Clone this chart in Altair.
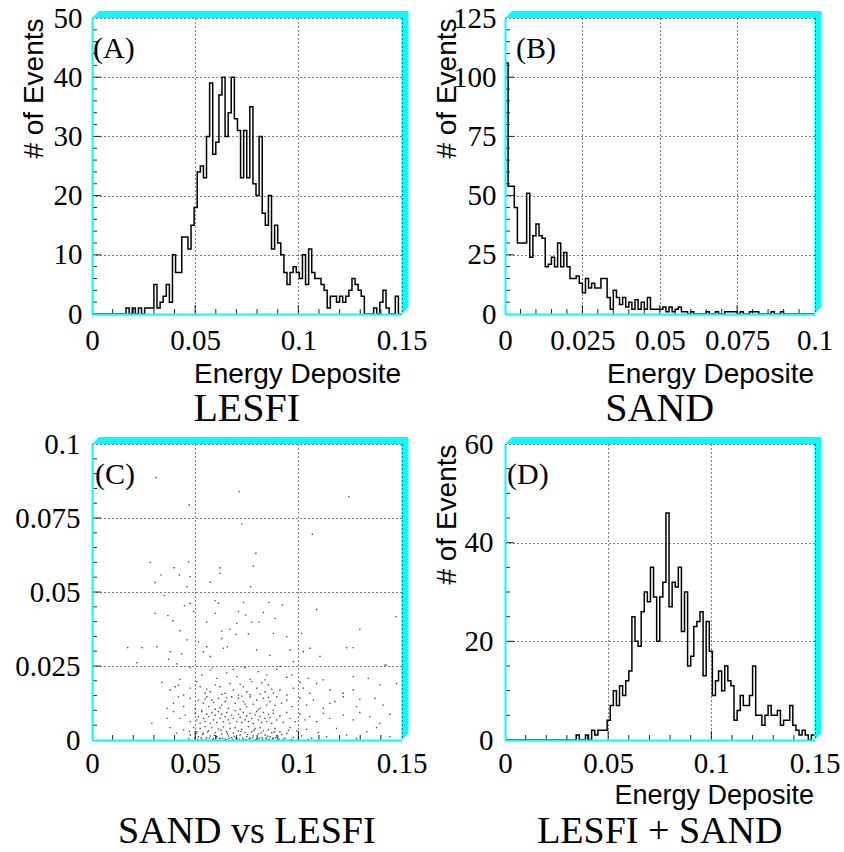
import altair as alt
import pandas as pd

# ---------------- data ----------------
# LESFI energy deposit: 100 bins on [0, 0.15]
lesfi_counts = [
    0, 0, 0, 0, 0, 0, 0, 0, 0, 0,
    0, 1, 0, 1, 0, 1, 0, 1, 1, 1,
    5, 1, 2, 3, 5, 2, 10, 7, 7, 13,
    13, 11, 15, 18, 24, 25, 23, 30, 39, 27,
    29, 37, 40, 30, 34, 40, 33, 31, 23, 31,
    23, 35, 22, 20, 30, 17, 15, 20, 11, 15,
    12, 10, 7, 5, 7, 8, 7, 6, 10, 5,
    11, 7, 6, 6, 5, 4, 1, 3, 3, 2,
    3, 2, 3, 4, 6, 5, 4, 3, 0, 0,
    0, 1, 0, 2, 4, 1, 0, 0, 3, 0,
]

# SAND energy deposit: 100 bins on [0, 0.1]
sand_counts = [
    106, 54, 54, 45, 30, 30, 30, 51, 24, 33,
    38, 33, 32, 20, 21, 24, 20, 30, 20, 26,
    20, 15, 15, 16, 13, 9, 15, 11, 13, 11,
    11, 15, 15, 7, 2, 10, 7, 4, 7, 3,
    5, 2, 6, 2, 5, 2, 7, 2, 2, 2,
    2, 3, 1, 3, 1, 2, 3, 1, 1, 0,
    1, 0, 0, 0, 0, 1, 0, 0, 1, 0,
    0, 1, 1, 1, 1, 0, 1, 0, 0, 1,
    1, 1, 0, 0, 0, 0, 1, 0, 0, 1,
    0, 0, 0, 0, 0, 0, 0, 0, 0, 0,
]

# LESFI + SAND energy deposit: 100 bins on [0, 0.15]
sum_counts = [
    0, 0, 0, 0, 0, 0, 0, 0, 0, 0,
    0, 0, 0, 0, 0, 0, 0, 0, 0, 0,
    0, 0, 0, 1, 0, 0, 1, 0, 2, 1,
    2, 2, 2, 4, 7, 10, 7, 11, 9, 12,
    14, 25, 20, 19, 26, 30, 28, 35, 29, 20,
    29, 32, 46, 27, 32, 31, 35, 22, 30, 15,
    17, 23, 24, 26, 13, 24, 18, 9, 12, 14,
    10, 15, 12, 11, 4, 6, 9, 7, 7, 9,
    15, 5, 5, 3, 5, 7, 5, 5, 6, 3,
    4, 4, 7, 3, 2, 1, 2, 1, 0, 1,
]

# SAND vs LESFI per event, as (lesfi, sand) pairs
events_upper = [
    (0.031, 0.0886), (0.0713, 0.0839), (0.1245, 0.0822), (0.0471, 0.0794),
    (0.0726, 0.073), (0.1068, 0.0695), (0.0794, 0.0631), (0.0282, 0.06),
    (0.0398, 0.0582), (0.0468, 0.0602), (0.0621, 0.0582), (0.0335, 0.0557),
    (0.0424, 0.0557), (0.0621, 0.0563), (0.0476, 0.0552), (0.0782, 0.0588),
    (0.0306, 0.0532), (0.0573, 0.0533), (0.0769, 0.0518), (0.046, 0.0518),
    (0.0597, 0.047), (0.0613, 0.0462), (0.035, 0.0488), (0.0734, 0.0465),
    (0.0858, 0.0465), (0.0923, 0.0456), (0.0476, 0.0462), (0.0448, 0.0454),
    (0.0306, 0.0428), (0.0368, 0.042), (0.0392, 0.0403), (0.0492, 0.0434),
    (0.0597, 0.0428), (0.071, 0.0434), (0.0745, 0.0422), (0.0831, 0.0431),
    (0.0887, 0.0411), (0.1089, 0.0441), (0.1473, 0.0417), (0.0556, 0.0398),
    (0.0702, 0.0394), (0.0774, 0.0398), (0.081, 0.0398), (0.0427, 0.0369),
    (0.0629, 0.0368), (0.0669, 0.0374), (0.0697, 0.0357), (0.0758, 0.0358),
    (0.0879, 0.036), (0.0944, 0.0349), (0.1016, 0.036), (0.1298, 0.0374),
    (0.046, 0.0338), (0.0516, 0.0332), (0.0556, 0.0315), (0.0629, 0.0343),
    (0.0656, 0.0315), (0.0173, 0.0312), (0.0242, 0.0312), (0.0315, 0.0315),
    (0.0379, 0.0298), (0.0435, 0.0291), (0.054, 0.0298), (0.0573, 0.0282),
    (0.0637, 0.031), (0.0798, 0.0304), (0.0863, 0.0286), (0.096, 0.0304),
    (0.1024, 0.0298), (0.1056, 0.031), (0.1105, 0.0282), (0.1234, 0.0312),
    (0.1266, 0.0312), (0.0218, 0.0261), (0.0371, 0.0273), (0.0411, 0.0257),
    (0.0976, 0.0265), (0.1427, 0.0253),
]
events_mid = [
    (0.0476, 0.0245), (0.0532, 0.022), (0.0573, 0.0236), (0.0605, 0.0208),
    (0.0653, 0.0227), (0.0702, 0.0214), (0.0742, 0.0245), (0.0766, 0.0205),
    (0.0806, 0.0231), (0.0847, 0.022), (0.0895, 0.0239), (0.0944, 0.0212),
    (0.0968, 0.022), (0.1048, 0.0208), (0.1121, 0.0203), (0.1266, 0.0214),
    (0.1339, 0.0208), (0.1419, 0.0253), (0.0339, 0.0195), (0.0427, 0.0205),
    (0.0581, 0.0243), (0.0685, 0.0238), (0.0839, 0.0203), (0.0911, 0.0249),
    (0.0403, 0.018),
    (0.0379, 0.0169), (0.0476, 0.0175), (0.0524, 0.018), (0.0548, 0.0158),
    (0.0573, 0.0163), (0.0597, 0.0186), (0.0621, 0.018), (0.0645, 0.0158),
    (0.0669, 0.0191), (0.0685, 0.0169), (0.071, 0.0152), (0.0734, 0.018),
    (0.075, 0.0163), (0.0774, 0.0197), (0.0798, 0.0175), (0.0815, 0.0155),
    (0.0839, 0.0163), (0.0855, 0.0186), (0.0879, 0.0158), (0.0911, 0.0169),
    (0.0944, 0.0152), (0.0976, 0.0175), (0.1024, 0.0175), (0.1056, 0.0158),
    (0.1089, 0.0191), (0.1153, 0.0169), (0.1218, 0.0158), (0.1266, 0.0169),
    (0.1395, 0.0186), (0.1476, 0.0191), (0.0444, 0.0152), (0.0508, 0.0197),
    (0.0556, 0.0172), (0.0629, 0.0154), (0.0718, 0.0188), (0.0766, 0.0153),
    (0.0823, 0.0193), (0.0871, 0.0172), (0.0419, 0.0185), (0.1008, 0.0195),
    (0.0419, 0.0146), (0.0444, 0.0113), (0.0476, 0.0141), (0.05, 0.0107),
    (0.0516, 0.0135), (0.054, 0.0124), (0.0556, 0.0146), (0.0565, 0.0113),
    (0.0581, 0.0135), (0.0597, 0.0104), (0.0613, 0.0141), (0.0629, 0.0118),
    (0.0645, 0.013), (0.0661, 0.0107), (0.0677, 0.0146), (0.0694, 0.0124),
    (0.071, 0.0141), (0.0718, 0.0104), (0.0734, 0.013), (0.075, 0.0113),
    (0.0766, 0.0146), (0.0782, 0.0121), (0.0798, 0.0135), (0.0815, 0.0107),
    (0.0831, 0.0141), (0.0847, 0.0118), (0.0863, 0.013), (0.0879, 0.0101),
    (0.0895, 0.0146), (0.0919, 0.0124), (0.0944, 0.0135), (0.0968, 0.0113),
    (0.1008, 0.0141), (0.104, 0.0118), (0.1073, 0.0135), (0.1121, 0.0107),
    (0.1177, 0.013), (0.1218, 0.0146), (0.1282, 0.0113), (0.1298, 0.0137),
    (0.1371, 0.0141), (0.1411, 0.0118), (0.0395, 0.0124), (0.0363, 0.0107),
    (0.0532, 0.0101), (0.0589, 0.0127), (0.0653, 0.0143), (0.0742, 0.0121),
    (0.0806, 0.0102), (0.0855, 0.0144), (0.0726, 0.0148), (0.0621, 0.0109),
    (0.0548, 0.0139), (0.0887, 0.0117), (0.1153, 0.0124),
]
events_low = [
    (0.0395, 0.0096), (0.0427, 0.0073), (0.0452, 0.0084), (0.0476, 0.0062),
    (0.05, 0.009), (0.0508, 0.0068), (0.0516, 0.0079), (0.0524, 0.0056),
    (0.0532, 0.0096), (0.054, 0.0073), (0.0548, 0.0062), (0.0556, 0.0087),
    (0.0565, 0.0079), (0.0573, 0.0056), (0.0581, 0.0093), (0.0589, 0.0068),
    (0.0597, 0.0084), (0.0605, 0.0059), (0.0613, 0.0096), (0.0621, 0.0073),
    (0.0629, 0.0087), (0.0637, 0.0062), (0.0645, 0.0079), (0.0653, 0.0093),
    (0.0661, 0.0068), (0.0669, 0.0056), (0.0677, 0.0084), (0.0685, 0.0073),
    (0.0694, 0.0099), (0.0702, 0.0062), (0.071, 0.0087), (0.0718, 0.0076),
    (0.0726, 0.0059), (0.0734, 0.0093), (0.0742, 0.0068), (0.075, 0.0082),
    (0.0758, 0.0062), (0.0766, 0.009), (0.0774, 0.0073), (0.0782, 0.0056),
    (0.079, 0.0084), (0.0798, 0.0096), (0.0806, 0.0068), (0.0815, 0.0079),
    (0.0823, 0.0059), (0.0831, 0.0093), (0.0839, 0.0073), (0.0847, 0.0062),
    (0.0855, 0.0087), (0.0863, 0.0076), (0.0871, 0.0056), (0.0879, 0.009),
    (0.0895, 0.0068), (0.0911, 0.0082), (0.0927, 0.0059), (0.0944, 0.0093),
    (0.096, 0.0073), (0.0984, 0.0062), (0.1008, 0.0087), (0.1032, 0.0068),
    (0.1056, 0.0079), (0.1089, 0.0062), (0.1121, 0.009), (0.1153, 0.0073),
    (0.1218, 0.0084), (0.1266, 0.0068), (0.1298, 0.0093), (0.1347, 0.0079),
    (0.1395, 0.0056), (0.1444, 0.0087), (0.029, 0.0056), (0.0363, 0.0073),
    (0.0444, 0.0034), (0.0476, 0.0017), (0.0492, 0.0042), (0.05, 0.0006),
    (0.0508, 0.0028), (0.0516, 0.0011), (0.0524, 0.0039), (0.0532, 0.0003),
    (0.054, 0.0023), (0.0548, 0.0045), (0.0556, 0.0008), (0.0565, 0.0031),
    (0.0573, 0.0014), (0.0581, 0.0042), (0.0589, 0.0004), (0.0597, 0.0025),
    (0.0605, 0.0011), (0.0613, 0.0037), (0.0621, 0.0006), (0.0629, 0.002),
    (0.0637, 0.0044), (0.0645, 0.0003), (0.0653, 0.0028), (0.0661, 0.0014),
    (0.0669, 0.0039), (0.0677, 0.0008), (0.0685, 0.0023), (0.0694, 0.0042),
    (0.0702, 0.0005), (0.071, 0.0031), (0.0718, 0.0017), (0.0726, 0.0036),
    (0.0734, 0.0002), (0.0742, 0.0025), (0.075, 0.0011), (0.0758, 0.0045),
    (0.0766, 0.0006), (0.0774, 0.0028), (0.0782, 0.0014), (0.079, 0.0039),
    (0.0798, 0.0003), (0.0806, 0.002), (0.0815, 0.0042), (0.0823, 0.0008),
    (0.0831, 0.0031), (0.0839, 0.0017), (0.0847, 0.0004), (0.0855, 0.0034),
    (0.0863, 0.0011), (0.0871, 0.0025), (0.0879, 0.0006), (0.0887, 0.0039),
    (0.0895, 0.0014), (0.0911, 0.0028), (0.0927, 0.0003), (0.0944, 0.0022),
    (0.096, 0.0042), (0.0976, 0.0009), (0.0992, 0.0031), (0.1016, 0.0014),
    (0.104, 0.0036), (0.1065, 0.0006), (0.1097, 0.0025), (0.1137, 0.0011),
    (0.1185, 0.0039), (0.1234, 0.0017), (0.1282, 0.0005), (0.1331, 0.0028),
    (0.1379, 0.0042), (0.1444, 0.0011), (0.0411, 0.0023), (0.0379, 0.0042),
    (0.0468, 0.0004), (0.0512, 0.0002), (0.0528, 0.0007), (0.0552, 0.0003),
    (0.0569, 0.0006), (0.0585, 0.0002), (0.0601, 0.0008), (0.0617, 0.0003),
    (0.0633, 0.0006), (0.0649, 0.0001), (0.0665, 0.0005), (0.0681, 0.0002),
    (0.0698, 0.0007), (0.0714, 0.0003), (0.073, 0.0006), (0.0746, 0.0001),
    (0.0762, 0.0004), (0.0778, 0.0008), (0.0794, 0.0002), (0.081, 0.0006),
    (0.0827, 0.0003), (0.0843, 0.0007), (0.0859, 0.0002), (0.0875, 0.0005),
    (0.0891, 0.0008), (0.0907, 0.0003), (0.0935, 0.0006), (0.0968, 0.0002),
    (0.1, 0.0005), (0.1048, 0.0002),
    (0.0536, 0.0019), (0.056, 0.0027), (0.0593, 0.0016), (0.0625, 0.0033),
    (0.0657, 0.0021), (0.0689, 0.0012), (0.0722, 0.0029), (0.0754, 0.0019),
    (0.0786, 0.0033), (0.0819, 0.0024), (0.0851, 0.0013), (0.0883, 0.0027),
    (0.0919, 0.0018), (0.0952, 0.0033), (0.0504, 0.0021), (0.0472, 0.0029),
]

# axis label positions and minor tick positions
lab_x15 = [0, 0.05, 0.1, 0.15]
lab_x10 = [0, 0.025, 0.05, 0.075, 0.1]
lab_y50 = [0, 10, 20, 30, 40, 50]
lab_y125 = [0, 25, 50, 75, 100, 125]
lab_y01 = [0, 0.025, 0.05, 0.075, 0.1]
lab_y60 = [0, 20, 40, 60]

minor_x15 = [0.01, 0.02, 0.03, 0.04, 0.06, 0.07, 0.08, 0.09, 0.11, 0.12, 0.13, 0.14]
minor_x10 = [0.005, 0.01, 0.015, 0.02, 0.03, 0.035, 0.04, 0.045, 0.055, 0.06,
             0.065, 0.07, 0.08, 0.085, 0.09, 0.095]
minor_y50 = [2, 4, 6, 8, 12, 14, 16, 18, 22, 24, 26, 28, 32, 34, 36, 38, 42, 44, 46, 48]
minor_y125 = [5, 10, 15, 20, 30, 35, 40, 45, 55, 60, 65, 70, 80, 85, 90, 95,
              105, 110, 115, 120]
minor_y01 = [0.005, 0.01, 0.015, 0.02, 0.03, 0.035, 0.04, 0.045, 0.055, 0.06,
             0.065, 0.07, 0.08, 0.085, 0.09, 0.095]
minor_y60 = [5, 10, 15, 25, 30, 35, 45, 50, 55]

# ---------------- styling ----------------
W, H = 309.5, 296
SERIF = "Liberation Serif"
SANS = "Liberation Sans"
CYAN = "#00ffff"
DEPTH = 7  # thickness of the bevelled frame border
LABEL_FMT = ".3~g"


def hist_table(counts, hi):
    n = len(counts)
    edges = [hi * i / n for i in range(n)] + [hi]
    return pd.DataFrame({"v": edges, "count": counts + [counts[-1]]})


def one_row():
    return pd.DataFrame({"k": [0]})


def x_axis(values, title, title_y, pad=35, title_size=28):
    kw = dict(
        values=values, format=LABEL_FMT, labelFont=SERIF, labelFontSize=29,
        labelColor="black", labelPadding=pad, labelBaseline="alphabetic",
        labelFlush=False, labelOverlap=False, ticks=False, tickSize=0,
        domainColor=CYAN, domainWidth=2, grid=True, gridColor="black",
        gridDash=[1, 3], gridWidth=1, zindex=1,
    )
    if title:
        kw.update(title=title, titleFont=SANS, titleFontSize=title_size,
                  titleFontWeight="normal", titleColor="black",
                  titleAnchor="end", titleAlign="right",
                  titleBaseline="alphabetic", titleX=W - 1, titleY=title_y)
    else:
        kw.update(title="")
    return alt.Axis(**kw)


def y_axis(values, title, pad):
    kw = dict(
        values=values, format=LABEL_FMT, labelFont=SERIF, labelFontSize=29,
        labelColor="black", labelPadding=pad, labelFlush=False,
        labelOverlap=False, ticks=False, tickSize=0,
        domainColor=CYAN, domainWidth=2, grid=True, gridColor="black",
        gridDash=[1, 3], gridWidth=1, zindex=1,
    )
    if title:
        kw.update(title=title, titleFont=SANS, titleFontSize=28,
                  titleFontWeight="normal", titleColor="black",
                  titleAngle=270, titleAlign="right",
                  titleBaseline="alphabetic", titleX=-50, titleY=0)
    else:
        kw.update(title="")
    return alt.Axis(**kw)


def panel(main_data, main_mark, xs, ys, xax, yax, xfield, yfield,
          xmajor, xminor, ymajor, yminor, tag, tag_dx, caption, caption_dy,
          caption_size=40, anchor=False):
    # data marks carry the shared axes
    layers = [
        main_mark(alt.Chart(main_data)).encode(
            x=alt.X(f"{xfield}:Q", scale=xs, axis=xax),
            y=alt.Y(f"{yfield}:Q", scale=ys, axis=yax),
        )
    ]

    # inward ticks along the bottom edge
    for vals, size in ((xminor, 5), (xmajor[1:-1], 9)):
        layers.append(
            alt.Chart(pd.DataFrame({xfield: vals}))
            .mark_rule(color="#222", strokeWidth=1)
            .encode(x=alt.X(f"{xfield}:Q", scale=xs, axis=xax),
                    y=alt.value(H), y2=alt.value(H - size))
        )
    # inward ticks along the left edge
    for vals, size in ((yminor, 5), (ymajor[1:-1], 9)):
        layers.append(
            alt.Chart(pd.DataFrame({yfield: vals}))
            .mark_rule(color="#222", strokeWidth=1)
            .encode(y=alt.Y(f"{yfield}:Q", scale=ys, axis=yax),
                    x=alt.value(0), x2=alt.value(size))
        )

    # bevelled cyan border along the top and right edges
    d = DEPTH
    border = (f"M0,0 L{d},{-d} L{W + d},{-d} L{W + d},{H - d} "
              f"L{W},{H} L{W},0 Z")
    layers.append(
        alt.Chart(one_row()).mark_point(shape=border, size=4, filled=True,
                                        color=CYAN, opacity=1, strokeWidth=0)
        .encode(x=alt.value(0), y=alt.value(0))
    )

    # panel tag in the upper-left corner
    layers.append(
        alt.Chart(one_row()).mark_text(text=tag, font=SERIF, fontSize=30,
                                       align="left", baseline="alphabetic",
                                       color="black")
        .encode(x=alt.value(tag_dx), y=alt.value(40))
    )

    # caption under the panel
    layers.append(
        alt.Chart(one_row()).mark_text(text=caption, font=SERIF,
                                       fontSize=caption_size,
                                       align="center", baseline="alphabetic",
                                       color="black")
        .encode(x=alt.value(W / 2), y=alt.value(H + caption_dy))
    )

    if anchor:
        layers.append(
            alt.Chart(one_row()).mark_rule(opacity=0)
            .encode(x=alt.value(-92), x2=alt.value(-92),
                    y=alt.value(-18), y2=alt.value(-17))
        )

    return alt.layer(*layers).properties(width=W, height=H)


def step_mark(c):
    return c.mark_line(interpolate="step-after", color="black", strokeWidth=1.5)


def dot_mark(c):
    return c.mark_square(size=1.8, color="#222", opacity=0.85)


def hist_panel(counts, hi, xlabels, xminor, ylabels, yminor, ytop, xaxis,
               tag, tag_dx, caption, caption_dy, ypad, caption_size=40,
               anchor=False):
    xs = alt.Scale(domain=[0, hi], nice=False, zero=False)
    ys = alt.Scale(domain=[0, ytop], nice=False, zero=False)
    return panel(hist_table(counts, hi), step_mark, xs, ys, xaxis,
                 y_axis(ylabels, "# of Events", ypad),
                 "v", "count", xlabels, xminor, ylabels, yminor,
                 tag, tag_dx, caption, caption_dy, caption_size, anchor)


panel_a = hist_panel(lesfi_counts, 0.15, lab_x15, minor_x15, lab_y50, minor_y50,
                     50, x_axis(lab_x15, "Energy Deposite", 68),
                     "(A)", 1, "LESFI", 107, 10, anchor=True)
panel_b = hist_panel(sand_counts, 0.1, lab_x10, minor_x10, lab_y125, minor_y125,
                     125, x_axis(lab_x10, "Energy Deposite", 68),
                     "(B)", 11, "SAND", 107, 9)

events = events_upper + events_mid + events_low
scatter_table = pd.DataFrame(events, columns=["lesfi", "sand"])
xs_c = alt.Scale(domain=[0, 0.15], nice=False, zero=False)
ys_c = alt.Scale(domain=[0, 0.1], nice=False, zero=False)
panel_c = panel(scatter_table, dot_mark, xs_c, ys_c,
                x_axis(lab_x15, None, 0, pad=32),
                y_axis(lab_y01, None, 12), "lesfi", "sand",
                lab_x15, minor_x15, lab_y01, minor_y01,
                "(C)", 3, "SAND vs LESFI", 103, caption_size=38)

panel_d = hist_panel(sum_counts, 0.15, lab_x15, minor_x15, lab_y60, minor_y60,
                     60, x_axis(lab_x15, "Energy Deposite", 63, pad=32,
                                title_size=27),
                     "(D)", 2, "LESFI + SAND", 103, 12, caption_size=38)

chart = (
    alt.concat(panel_a, panel_b, panel_c, panel_d, columns=2,
               spacing={"row": 130, "column": 103}, bounds="flush")
    .properties(padding=0, background="white")
    .configure_view(stroke=None)
)

chart.save("out.html", embed_options={"renderer": "svg", "actions": False})
